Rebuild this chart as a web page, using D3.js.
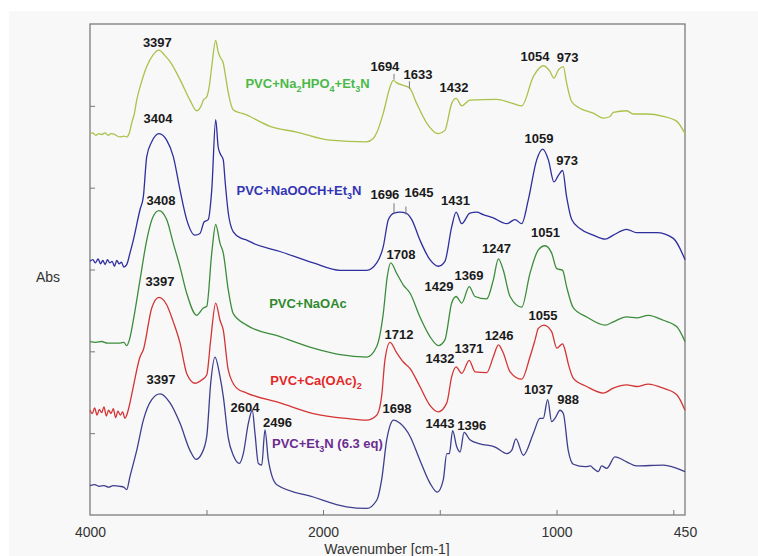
<!DOCTYPE html>
<html>
<head>
<meta charset="utf-8">
<script src="https://cdn.jsdelivr.net/npm/d3@7"></script>
<style>
body { margin: 0; background: #fff; }
text { font-family: "Liberation Sans", Arial, sans-serif; }
</style>
</head>
<body>
<div id="plot"></div>
<script>
// Spectra: [wavenumber, absorbance (offset)]
var specHPO4 = [[4000,4.66],[3975,4.67],[3950,4.64],[3925,4.66],[3900,4.65],[3870,4.67],[3845,4.64],[3820,4.66],[3790,4.65],[3765,4.63],[3742,4.62],[3710,4.63],[3685,4.62],[3660,4.68],[3642,4.79],[3620,4.90],[3599,5.07],[3560,5.28],[3513,5.48],[3460,5.62],[3408,5.68],[3360,5.62],[3313,5.54],[3227,5.32],[3142,5.07],[3084,4.94],[3040,5.02],[3027,5.07],[2998,5.11],[2975,5.25],[2955,5.48],[2921,5.80],[2900,5.66],[2884,5.60],[2856,5.52],[2835,5.35],[2813,5.16],[2770,4.95],[2700,4.91],[2655,4.89],[2627,4.87],[2455,4.75],[2226,4.68],[1970,4.58],[1813,4.56],[1785,4.60],[1770,4.67],[1742,4.91],[1713,5.23],[1699,5.31],[1684,5.28],[1630,5.22],[1599,5.03],[1556,4.79],[1506,4.66],[1478,4.70],[1449,5.03],[1430,5.09],[1406,5.00],[1371,5.07],[1256,5.08],[1199,5.04],[1149,5.00],[1099,5.36],[1057,5.49],[1028,5.42],[1011,5.34],[992,5.44],[971,5.48],[957,5.28],[935,5.05],[900,4.97],[843,4.91],[800,4.85],[771,4.87],[757,4.92],[700,4.94],[671,4.90],[614,4.90],[543,4.87],[485,4.81],[450,4.66]];

var specNaOOCH = [[4000,3.10],[3975,3.12],[3955,3.08],[3930,3.13],[3910,3.07],[3890,3.11],[3870,3.06],[3850,3.12],[3830,3.08],[3810,3.10],[3790,3.04],[3770,3.11],[3750,3.07],[3730,3.09],[3710,3.03],[3685,3.06],[3657,3.20],[3628,3.36],[3571,3.73],[3542,3.89],[3513,4.38],[3470,4.56],[3408,4.66],[3342,4.58],[3285,4.38],[3227,3.97],[3170,3.61],[3099,3.42],[3056,3.44],[3021,3.58],[2985,3.61],[2955,3.97],[2921,4.83],[2900,4.50],[2884,4.42],[2856,4.34],[2841,4.09],[2813,3.69],[2770,3.46],[2700,3.38],[2655,3.36],[2598,3.32],[2369,3.22],[2083,3.08],[1927,2.99],[1813,2.99],[1770,3.08],[1742,3.28],[1720,3.61],[1696,3.69],[1670,3.70],[1645,3.69],[1620,3.61],[1585,3.36],[1542,3.12],[1506,3.04],[1478,3.10],[1449,3.52],[1430,3.70],[1406,3.56],[1371,3.69],[1342,3.70],[1314,3.67],[1271,3.63],[1213,3.56],[1178,3.61],[1149,3.56],[1121,3.85],[1085,4.34],[1059,4.47],[1035,4.34],[1011,4.07],[992,4.15],[974,4.21],[957,3.89],[935,3.61],[900,3.50],[843,3.42],[792,3.37],[757,3.42],[700,3.49],[657,3.45],[571,3.45],[500,3.38],[450,3.12]];

var specNaOAc = [[4000,2.12],[3950,2.11],[3900,2.12],[3850,2.10],[3800,2.10],[3742,2.10],[3710,2.11],[3685,2.07],[3660,2.15],[3628,2.38],[3571,2.87],[3513,3.36],[3457,3.65],[3408,3.72],[3342,3.61],[3285,3.32],[3227,3.03],[3170,2.71],[3084,2.44],[3027,2.53],[2998,2.55],[2955,3.20],[2921,3.55],[2884,3.32],[2856,3.20],[2813,2.75],[2770,2.46],[2655,2.32],[2369,2.18],[2083,2.04],[1927,1.96],[1813,1.93],[1770,2.06],[1742,2.46],[1725,2.91],[1710,3.08],[1684,2.95],[1656,2.81],[1627,2.71],[1585,2.42],[1542,2.18],[1506,2.07],[1478,2.14],[1449,2.59],[1430,2.67],[1406,2.59],[1374,2.79],[1349,2.67],[1299,2.64],[1271,2.87],[1249,3.13],[1228,2.99],[1199,2.67],[1149,2.54],[1114,2.95],[1078,3.24],[1049,3.29],[1021,3.20],[999,3.01],[974,2.99],[957,2.79],[928,2.53],[871,2.42],[792,2.32],[757,2.36],[700,2.42],[657,2.41],[607,2.44],[543,2.38],[485,2.30],[450,2.12]];

var specCaOAc = [[4000,1.28],[3980,1.24],[3960,1.31],[3940,1.22],[3920,1.29],[3900,1.25],[3880,1.32],[3860,1.21],[3840,1.28],[3820,1.24],[3800,1.30],[3780,1.19],[3760,1.27],[3740,1.22],[3720,1.26],[3700,1.18],[3685,1.22],[3657,1.37],[3628,1.57],[3571,1.93],[3542,2.02],[3470,2.53],[3408,2.66],[3342,2.57],[3285,2.36],[3227,2.10],[3170,1.73],[3099,1.61],[3041,1.65],[2998,1.71],[2964,2.14],[2921,2.59],[2884,2.38],[2856,2.26],[2813,1.77],[2741,1.55],[2655,1.49],[2369,1.37],[2083,1.24],[1899,1.18],[1813,1.16],[1770,1.22],[1749,1.45],[1735,1.89],[1713,2.11],[1684,1.98],[1656,1.87],[1627,1.79],[1585,1.57],[1542,1.34],[1506,1.26],[1470,1.37],[1449,1.69],[1430,1.81],[1406,1.73],[1374,1.89],[1349,1.75],[1299,1.74],[1271,1.93],[1249,2.08],[1228,1.98],[1199,1.75],[1149,1.66],[1114,1.93],[1092,2.14],[1078,2.28],[1054,2.32],[1021,2.24],[999,2.04],[974,2.09],[964,2.02],[950,1.85],[928,1.67],[871,1.57],[800,1.49],[757,1.55],[700,1.59],[657,1.57],[607,1.60],[543,1.55],[485,1.47],[450,1.28]];

var specEt3N = [[4000,0.36],[3960,0.37],[3920,0.35],[3880,0.36],[3840,0.34],[3800,0.36],[3742,0.35],[3710,0.34],[3685,0.31],[3657,0.47],[3599,0.79],[3542,1.16],[3470,1.41],[3399,1.48],[3313,1.37],[3227,1.12],[3142,0.79],[3090,0.68],[3041,0.75],[2998,0.96],[2964,1.61],[2927,1.93],[2884,1.69],[2856,1.45],[2813,0.94],[2770,0.73],[2718,0.63],[2684,0.75],[2641,1.12],[2607,1.28],[2584,1.00],[2555,0.63],[2526,0.61],[2498,1.04],[2469,0.67],[2397,0.37],[2083,0.22],[1899,0.10],[1813,0.08],[1770,0.18],[1749,0.43],[1727,0.92],[1706,1.14],[1699,1.16],[1670,1.12],[1627,0.96],[1585,0.67],[1542,0.39],[1511,0.28],[1485,0.43],[1470,0.75],[1459,0.75],[1445,1.03],[1427,0.83],[1413,0.77],[1396,1.01],[1371,0.92],[1328,0.87],[1263,0.83],[1213,0.75],[1192,0.79],[1174,0.93],[1142,0.73],[1099,1.00],[1071,1.18],[1057,1.18],[1038,1.41],[1021,1.14],[1007,1.18],[985,1.28],[971,1.24],[950,0.79],[928,0.62],[878,0.59],[854,0.60],[843,0.57],[821,0.53],[807,0.60],[785,0.57],[750,0.71],[700,0.65],[657,0.60],[543,0.61],[485,0.57],[450,0.53]];

// Series names ("_" marks a one-character subscript), label centre [wavenumber, abs]
var seriesNames = ["PVC+Na_2HPO_4+Et_3N", "PVC+NaOOCH+Et_3N", "PVC+NaOAc", "PVC+Ca(OAc)_2", "PVC+Et_3N (6.3 eq)"];
var seriesNamePos = [[2133,5.27], [2206,3.97], [2129,2.59], [2060,1.65], [1981,0.88]];
var lineColors = ["#a9c24a", "#2e2e9e", "#3c8c3c", "#d43434", "#3e3e8e"];
var nameColors = ["#4cb848", "#3434b4", "#2f8a2f", "#e22828", "#6b2c91"];

// Peak labels: [text, wavenumber of label centre, abs of label centre]
var peakLabels = [
    ["3397",3422,5.78],["1694",1735,5.48],["1633",1593,5.39],["1432",1439,5.23],["1054",1092,5.60],["973",953,5.59],
    ["3404",3416,4.85],["1696",1735,3.92],["1645",1589,3.94],["1431",1433,3.84],["1059",1075,4.60],["973",955,4.34],
    ["3408",3391,3.85],["1708",1666,3.19],["1429",1503,2.80],["1369",1375,2.93],["1247",1257,3.26],["1051",1047,3.45],
    ["3397",3399,2.85],["1712",1675,2.21],["1432",1499,1.91],["1371",1375,2.04],["1246",1246,2.20],["1055",1058,2.44],
    ["3397",3391,1.66],["2604",2669,1.32],["2496",2390,1.13],["1698",1683,1.30],["1443",1499,1.12],["1396",1363,1.10],["1037",1077,1.54],["988",950,1.41]
];
// small marker lines above shoulders: [wavenumber, abs top, abs bottom]
var peakMarks = [[1696,5.39,5.32],[1630,5.30,5.21],[1696,3.81,3.69],[1645,3.77,3.67]];

var xTickMarks = [3000, 2000, 1500, 1000, 500];
var xTickLabels = [4000, 2000, 1000, 450];
var yTickMarks = [1, 2, 3, 4, 5];

var width = 758, height = 556;
var svg = d3.select("#plot").append("svg")
    .attr("width", width)
    .attr("height", height);

// light grey figure background
svg.append("rect")
    .attr("x", 9).attr("y", 11)
    .attr("width", width - 9).attr("height", height - 11)
    .attr("fill", "#f8f8f8");

// axis is broken at 2000 (scale changes)
var x = d3.scaleLinear().domain([4000, 2000, 450]).range([90, 323, 685]);
var y = d3.scaleLinear().domain([0, 6]).range([515, 24]);

// ticks pointing inward
svg.append("g")
    .attr("transform", "translate(0," + y(0) + ")")
    .call(d3.axisBottom(x).tickValues(xTickMarks).tickSize(-5).tickFormat(""))
    .call(function(g){ g.select(".domain").remove(); })
    .selectAll("line").attr("stroke", "#777");

svg.append("g")
    .attr("transform", "translate(0," + y(0) + ")")
    .call(d3.axisBottom(x).tickValues(xTickLabels).tickSize(0).tickPadding(12).tickFormat(d3.format("d")))
    .call(function(g){ g.select(".domain").remove(); })
    .selectAll("text")
    .attr("font-size", 14)
    .attr("fill", "#333")
    .style("font-family", "'Liberation Sans', Arial, sans-serif");

svg.append("g")
    .attr("transform", "translate(" + x(4000) + ",0)")
    .call(d3.axisLeft(y).tickValues(yTickMarks).tickSize(-5).tickFormat(""))
    .call(function(g){ g.select(".domain").remove(); })
    .selectAll("line").attr("stroke", "#777");

// frame
svg.append("rect")
    .attr("x", x(4000)).attr("y", y(6))
    .attr("width", x(450) - x(4000)).attr("height", y(0) - y(6))
    .attr("fill", "none")
    .attr("stroke", "#7c7c7c")
    .attr("stroke-width", 1.3);

// spectra
var spectra = [specHPO4, specNaOOCH, specNaOAc, specCaOAc, specEt3N];
var line = d3.line()
    .x(function(d){ return x(d[0]); })
    .y(function(d){ return y(d[1]); })
    .curve(d3.curveMonotoneX);

svg.append("g")
    .selectAll("path")
    .data(spectra)
    .enter()
    .append("path")
    .attr("d", line)
    .attr("fill", "none")
    .attr("stroke", function(d, i){ return lineColors[i]; })
    .attr("stroke-width", 1.3)
    .attr("stroke-linejoin", "round");

// shoulder marks
svg.append("g")
    .selectAll("line")
    .data(peakMarks)
    .enter()
    .append("line")
    .attr("x1", function(d){ return x(d[0]); })
    .attr("x2", function(d){ return x(d[0]); })
    .attr("y1", function(d){ return y(d[1]); })
    .attr("y2", function(d){ return y(d[2]); })
    .attr("stroke", "#777")
    .attr("stroke-width", 1);

// peak numbers
svg.append("g")
    .selectAll("text")
    .data(peakLabels)
    .enter()
    .append("text")
    .attr("x", function(d){ return x(d[1]); })
    .attr("y", function(d){ return y(d[2]); })
    .attr("dy", "0.36em")
    .attr("text-anchor", "middle")
    .attr("font-size", 13)
    .attr("font-weight", "bold")
    .attr("fill", "#1a1a1a")
    .text(function(d){ return d[0]; });

// series names with subscripts
seriesNames.forEach(function(name, i){
    var t = svg.append("text")
        .attr("x", x(seriesNamePos[i][0]))
        .attr("y", y(seriesNamePos[i][1]))
        .attr("dy", "0.36em")
        .attr("text-anchor", "middle")
        .attr("font-size", 13)
        .attr("font-weight", "bold")
        .attr("fill", nameColors[i]);
    var parts = name.split("_");
    parts.forEach(function(p, j){
        if (j === 0) {
            t.append("tspan").text(p);
        } else {
            t.append("tspan").attr("font-size", 9).attr("dy", 4).text(p.charAt(0));
            if (p.length > 1) t.append("tspan").attr("dy", -4).text(p.slice(1));
        }
    });
});

// axis titles
svg.append("text")
    .attr("x", 48).attr("y", 282)
    .attr("text-anchor", "middle")
    .attr("font-size", 14)
    .attr("fill", "#333")
    .text("Abs");

svg.append("text")
    .attr("x", 387).attr("y", 554)
    .attr("text-anchor", "middle")
    .attr("font-size", 14)
    .attr("fill", "#333")
    .text("Wavenumber [cm-1]");
</script>
</body>
</html>
